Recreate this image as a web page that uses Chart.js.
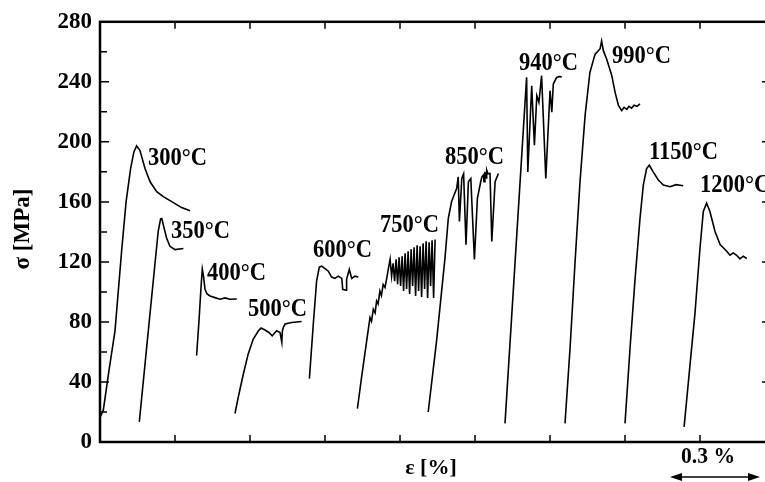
<!DOCTYPE html>
<html>
<head>
<meta charset="utf-8">
<script src="https://cdn.jsdelivr.net/npm/chart.js@4.4.1/dist/chart.umd.min.js"></script>
<style>
html, body { margin: 0; padding: 0; background: #fff; overflow: hidden; }
#wrap { width: 765px; height: 482px; overflow: hidden; }
</style>
</head>
<body>
<div id="wrap"><canvas id="canva1" width="772" height="482"></canvas></div>
<script>
// dados (deformacao em %, tensao em MPa)

var temperaturas = ['300°C', '350°C', '400°C', '500°C', '600°C', '750°C', '850°C', '940°C', '990°C', '1150°C', '1200°C'];

var eps300 = [0.002, 0.011, 0.03, 0.05, 0.072, 0.087, 0.102, 0.113, 0.122, 0.133, 0.15, 0.167, 0.189, 0.211, 0.239, 0.272, 0.3];
var sig300 = [17.2, 21.2, 47.7, 74.1, 127.1, 160.2, 182.2, 193.3, 197.3, 194.4, 182.2, 173.4, 166.8, 163.5, 160.2, 156.2, 154.1];

var eps350 = [0.131, 0.161, 0.183, 0.194, 0.202, 0.206, 0.211, 0.222, 0.233, 0.25, 0.278];
var sig350 = [13.4, 74.1, 118.3, 140.3, 148.7, 148.9, 144.7, 135.9, 130.4, 128.2, 128.9];

var eps400 = [0.322, 0.33, 0.337, 0.341, 0.345, 0.35, 0.357, 0.367, 0.383, 0.4, 0.417, 0.433, 0.456];
var sig400 = [57.6, 80.8, 103.9, 115.2, 110.5, 101.7, 98.6, 97.3, 96.2, 95.1, 96, 95.1, 95.3];

var eps500 = [0.45, 0.461, 0.478, 0.494, 0.511, 0.528, 0.537, 0.55, 0.563, 0.574, 0.589, 0.6, 0.606, 0.608, 0.611, 0.617, 0.639, 0.672];
var sig500 = [19, 30, 45.5, 58.7, 68.6, 74.1, 75.9, 74.6, 73, 70.8, 74.1, 73, 66.4, 74.1, 76.3, 78.6, 79.6, 80.3];

var eps600 = [0.698, 0.711, 0.722, 0.731, 0.739, 0.75, 0.761, 0.772, 0.783, 0.794, 0.806, 0.809, 0.82, 0.822, 0.831, 0.839, 0.85, 0.861];
var sig600 = [42.2, 78.6, 107.2, 116.5, 117.2, 115.6, 113.8, 109.9, 109, 110.5, 109, 101.7, 101.1, 108.4, 115, 109, 110.5, 109.9];

var eps750 = [0.858, 0.872, 0.889, 0.9, 0.905, 0.911, 0.917, 0.922, 0.927, 0.933, 0.938, 0.944, 0.95,
    0.956, 0.961, 0.967, 0.972, 0.977, 0.982, 0.987, 0.992, 0.997, 1.002, 1.007, 1.012, 1.017, 1.022, 1.027, 1.032,
    1.037, 1.042, 1.047, 1.052, 1.057, 1.062, 1.067, 1.072, 1.077, 1.082, 1.087, 1.092, 1.097, 1.102, 1.107, 1.112, 1.117];
var sig750 = [22.3, 43.2, 67.5, 82.9, 80.5, 88.5, 86, 94, 92, 100.6, 97.5, 105, 103,
    109.4, 115.2, 121.8, 110.5, 119.1, 107.2, 121.8, 105.2, 123.1, 103.9, 123.8, 100.6, 125.8, 101.9, 127.1, 98.6,
    128.4, 103.9, 129.7, 97.3, 131.1, 100.6, 130.4, 96.6, 132.4, 101.9, 133.7, 96, 133.1, 103.9, 134.4, 96, 135];

var eps850 = [1.094, 1.122, 1.15, 1.161, 1.172, 1.189, 1.194, 1.198, 1.206, 1.212, 1.22, 1.228, 1.236, 1.248,
    1.258, 1.269, 1.273, 1.278, 1.28, 1.283, 1.287, 1.289, 1.293, 1.3, 1.306, 1.317, 1.328];
var sig850 = [20, 67.5, 122.7, 149.1, 160.2, 169, 176.7, 147, 175.6, 178.7, 131.5, 173.4, 175.6, 121.6,
    162.4, 173.4, 176.7, 177.9, 173.4, 180, 176, 181.2, 178.7, 178.9, 133.7, 173.4, 178.9];

var eps940 = [1.35, 1.422, 1.426, 1.439, 1.448, 1.456, 1.463, 1.472, 1.486, 1.5, 1.506, 1.511, 1.522, 1.533, 1.539];
var sig940 = [12.4, 243, 180, 237.4, 197.7, 230.8, 226.4, 244.1, 175.6, 234.1, 219.8, 238.5, 242.9, 243.6, 243];

var eps990 = [1.55, 1.567, 1.583, 1.6, 1.617, 1.633, 1.65, 1.667, 1.672, 1.678, 1.689, 1.706, 1.717, 1.728,
    1.739, 1.747, 1.756, 1.763, 1.772, 1.78, 1.79, 1.8];
var sig990 = [12.4, 63.1, 118.3, 173.4, 217.6, 246.2, 258.3, 262.1, 267.2, 260.6, 255, 244.1, 233, 224.2,
    220.8, 223, 221.7, 223.7, 222.4, 224.4, 223.7, 225.3];

var eps1150 = [1.75, 1.767, 1.783, 1.8, 1.811, 1.822, 1.831, 1.844, 1.861, 1.878, 1.9, 1.92, 1.944];
var sig1150 = [12.4, 63.1, 107.2, 149.1, 171.2, 182.2, 184.4, 180, 174.6, 171.2, 170.1, 171.5, 170.8];

var eps1200 = [1.947, 1.967, 1.983, 2.0, 2.011, 2.022, 2.033, 2.05, 2.067, 2.089, 2.1, 2.111, 2.122, 2.133, 2.144, 2.156];
var sig1200 = [10.1, 52.1, 85.2, 129.3, 153.6, 159.1, 153.6, 140.3, 131.5, 127.1, 124.5, 126, 124.4, 122, 123.8, 122.3];

// onde fica cada rotulo de temperatura (em unidades dos eixos)
var rotuloX = [0.16, 0.237, 0.357, 0.493, 0.71, 0.933, 1.15, 1.397, 1.707, 1.83, 2.0];
var rotuloY = [188.7, 140.3, 112.5, 88.1, 127.7, 144.3, 189.3, 252.2, 256.8, 192.6, 170.8];

var xTicks = [0.25, 0.5, 0.75, 1.0, 1.25, 1.5, 1.75, 2.0];
var escalaBarra = [1.9, 2.2]; // seta de 0.3 %

var fonte = '"Liberation Serif", "Times New Roman", serif';

function pontos(xs, ys) {
    var lista = [];
    for (var i = 0; i < xs.length; i++) {
        lista.push({ x: xs[i], y: ys[i] });
    }
    return lista;
}

var curvas = [
    [eps300, sig300], [eps350, sig350], [eps400, sig400], [eps500, sig500], [eps600, sig600], [eps750, sig750],
    [eps850, sig850], [eps940, sig940], [eps990, sig990], [eps1150, sig1150], [eps1200, sig1200]
];

var datasets = [];
for (var i = 0; i < curvas.length; i++) {
    datasets.push({
        label: temperaturas[i],
        data: pontos(curvas[i][0], curvas[i][1]),
        showLine: true,
        borderColor: '#000',
        borderWidth: 1.6,
        pointRadius: 0,
        tension: 0
    });
}

function textoEstreito(ctx, txt, x, y) { // texto um pouco condensado, como no original
    ctx.save();
    ctx.translate(x, y);
    ctx.scale(0.9, 1);
    ctx.fillText(txt, 0, 0);
    ctx.restore();
}

var extras = { // moldura, ticks para dentro, rotulos e seta
    id: 'extras',
    afterDatasetsDraw: function (chart) {
        var ctx = chart.ctx;
        var a = chart.chartArea;
        var sx = chart.scales.x;
        var sy = chart.scales.y;
        ctx.save();
        ctx.strokeStyle = '#000';
        ctx.fillStyle = '#000';

        ctx.lineWidth = 1.5;
        ctx.beginPath();
        xTicks.forEach(function (v) {
            var px = sx.getPixelForValue(v);
            ctx.moveTo(px, a.bottom); ctx.lineTo(px, a.bottom - 7);
            ctx.moveTo(px, a.top); ctx.lineTo(px, a.top + 7);
        });
        for (var v = 20; v < 280; v += 20) {
            var py = sy.getPixelForValue(v);
            var len = (v % 40 == 0) ? 9 : 7;
            ctx.moveTo(a.left, py); ctx.lineTo(a.left + len, py);
            if (v % 40 == 0 && v <= 240) {
                ctx.moveTo(a.right, py); ctx.lineTo(a.right - 5, py);
            }
        }
        ctx.stroke();

        ctx.lineWidth = 2.5;
        ctx.strokeRect(a.left, a.top, a.right - a.left, a.bottom - a.top);

        ctx.font = 'bold 25px ' + fonte;
        ctx.textAlign = 'left';
        ctx.textBaseline = 'middle';
        for (var i = 0; i < temperaturas.length; i++) {
            textoEstreito(ctx, temperaturas[i], sx.getPixelForValue(rotuloX[i]), sy.getPixelForValue(rotuloY[i]));
        }

        // titulos dos eixos
        ctx.textAlign = 'center';
        ctx.font = 'bold 22px ' + fonte;
        ctx.fillText('ε [%]', 431, 468);
        ctx.save();
        ctx.translate(23, 229);
        ctx.rotate(-Math.PI / 2);
        ctx.font = 'bold 23px ' + fonte;
        ctx.fillText('σ [MPa]', 0, 0);
        ctx.restore();

        // barra de escala
        var x1 = sx.getPixelForValue(escalaBarra[0]);
        var x2 = sx.getPixelForValue(escalaBarra[1]);
        ctx.font = 'bold 24px ' + fonte;
        textoEstreito(ctx, '0.3 %', x1 + 38, 457);
        var yb = 477;
        ctx.lineWidth = 1.5;
        ctx.beginPath();
        ctx.moveTo(x1 + 8, yb); ctx.lineTo(x2 - 8, yb);
        ctx.stroke();
        ctx.beginPath();
        ctx.moveTo(x1, yb); ctx.lineTo(x1 + 12, yb - 4); ctx.lineTo(x1 + 12, yb + 4); ctx.closePath();
        ctx.moveTo(x2, yb); ctx.lineTo(x2 - 12, yb - 4); ctx.lineTo(x2 - 12, yb + 4); ctx.closePath();
        ctx.fill();

        ctx.restore();
    }
};

var ctx = document.getElementById('canva1').getContext('2d');
var myChart1 = new Chart(ctx, {
    type: 'scatter',
    data: { datasets: datasets },
    options: {
        responsive: false,
        animation: false,
        devicePixelRatio: 1,
        layout: { padding: { top: 19, right: 5, left: 0, bottom: 0 } },
        plugins: { legend: { display: false }, tooltip: { enabled: false } },
        scales: {
            x: {
                type: 'linear',
                min: 0,
                max: 2.2233,
                ticks: { display: false },
                grid: { display: false, drawTicks: false },
                border: { display: false },
                afterFit: function (s) { s.height = 40; }
            },
            y: {
                min: 0,
                max: 280,
                ticks: {
                    stepSize: 40,
                    padding: 8,
                    color: '#000',
                    font: { family: fonte, size: 23, weight: 'bold' }
                },
                grid: { display: false, drawTicks: false },
                border: { display: false },
                afterFit: function (s) { s.width = 100; }
            }
        }
    },
    plugins: [extras]
});
</script>
</body>
</html>
